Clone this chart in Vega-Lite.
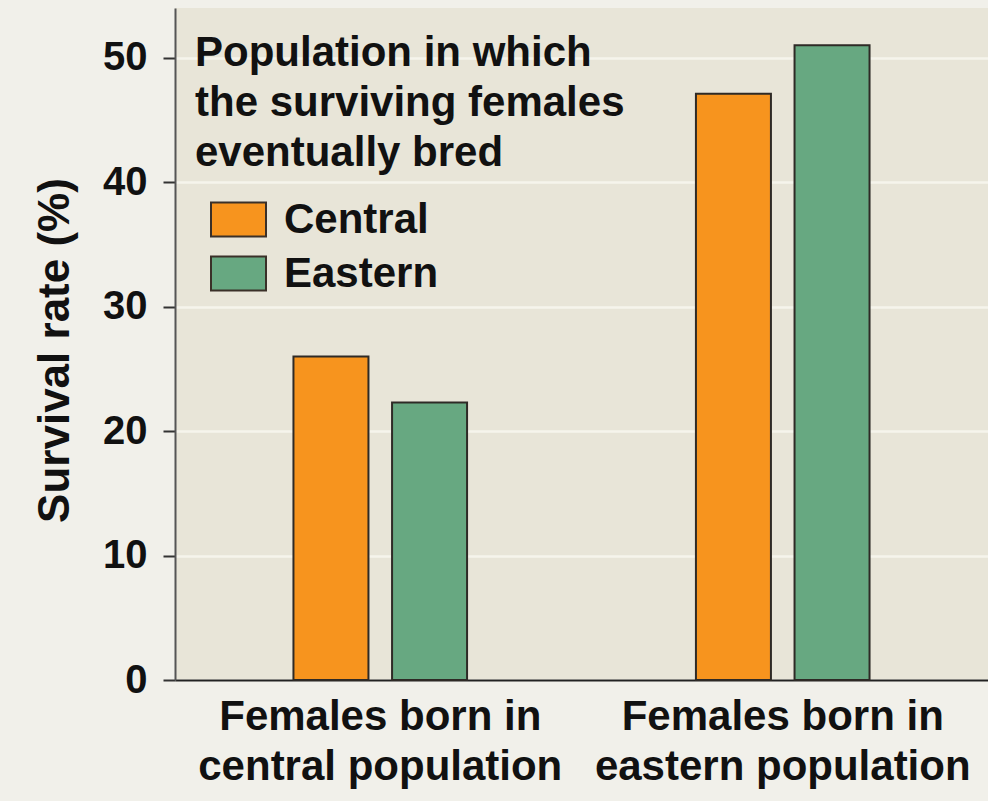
{
  "$schema": "https://vega.github.io/schema/vega-lite/v6.json",
  "width": 813,
  "height": 672,
  "autosize": {"type": "none"},
  "padding": {"left": 175, "top": 8, "right": 0, "bottom": 121},
  "background": "#f1f0ea",
  "config": {"view": {"fill": "#e8e5d8", "stroke": null}, "font": "Liberation Sans"},
  "data": {"values": [
    {"born": "central", "bred": "Central", "rate": 26},
    {"born": "central", "bred": "Eastern", "rate": 22.3},
    {"born": "eastern", "bred": "Central", "rate": 47.1},
    {"born": "eastern", "bred": "Eastern", "rate": 51}
  ]},
  "mark": {"type": "bar", "stroke": "#2e2a26", "strokeWidth": 2, "width": 75},
  "encoding": {
    "x": {
      "field": "born", "type": "nominal",
      "scale": {"paddingInner": 0.02, "paddingOuter": 0.02},
      "axis": {
        "title": null, "ticks": false, "domainColor": "#222", "domainWidth": 2,
        "labelFont": "Liberation Sans", "labelFontSize": 42, "labelFontWeight": "bold",
        "labelColor": "#111", "labelPadding": 16, "labelLineHeight": 50, "labelAngle": 0,
        "labelLimit": 0,
        "labelExpr": "datum.value == 'central' ? ['Females born in', 'central population'] : ['Females born in', 'eastern population']"
      }
    },
    "xOffset": {
      "field": "bred", "type": "nominal",
      "scale": {"paddingInner": 0, "paddingOuter": 1}
    },
    "y": {
      "field": "rate", "type": "quantitative",
      "scale": {"domain": [0, 54], "nice": false},
      "axis": {
        "title": "Survival rate (%)", "titleFont": "Liberation Sans", "titleFontSize": 44,
        "titleFontWeight": "bold", "titleColor": "#111", "titleX": -120, "titleY": 342,
        "titleBaseline": "middle", "titleAlign": "center",
        "values": [0, 10, 20, 30, 40, 50],
        "labelFont": "Liberation Sans", "labelFontSize": 40, "labelFontWeight": "bold",
        "labelColor": "#111", "labelFlush": false, "labelOverlap": false, "labelBound": false,
        "tickSize": 12, "tickWidth": 2, "tickColor": "#333", "labelPadding": 16,
        "domainColor": "#555", "domainWidth": 2,
        "grid": true, "gridColor": "#f6f4ec", "gridWidth": 2.5
      }
    },
    "color": {
      "field": "bred", "type": "nominal",
      "scale": {"domain": ["Central", "Eastern"], "range": ["#f7941e", "#67a881"]},
      "legend": {
        "orient": "none", "legendX": 20, "legendY": 25, "padding": 0,
        "title": ["Population in which", "the surviving females", "eventually bred"],
        "titleFont": "Liberation Sans", "titleFontSize": 42, "titleFontWeight": "bold",
        "titleLineHeight": 50, "titleBaseline": "top", "titlePadding": 16, "titleColor": "#111",
        "titleLimit": 0,
        "labelFont": "Liberation Sans", "labelFontSize": 42, "labelFontWeight": "bold",
        "labelColor": "#111", "labelOffset": 17, "labelLimit": 0,
        "symbolType": "M-1,-0.618H1V0.618H-1Z", "symbolSize": 3025, "symbolOffset": 15,
        "symbolStrokeColor": "#3a3028", "symbolStrokeWidth": 2, "symbolOpacity": 1,
        "rowPadding": 4
      }
    }
  }
}
